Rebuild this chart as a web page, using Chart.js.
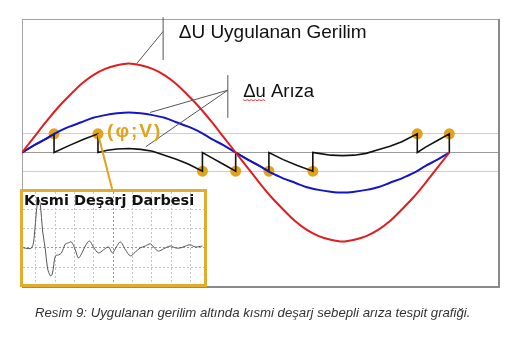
<!DOCTYPE html>
<html><head><meta charset="utf-8">
<script src="https://cdn.jsdelivr.net/npm/chart.js@4.4.1/dist/chart.umd.min.js"></script>
<style>
html,body{margin:0;padding:0;background:#fff;}
#wrap{position:relative;width:526px;height:341px;overflow:hidden;}
#main{position:absolute;left:0;top:0;}
#inset{position:absolute;left:20px;top:189px;width:181px;height:92px;border:3px solid #E2AC2C;background:#fff;}
#pulse{display:block;}
#caption{position:absolute;left:35px;top:305px;font:italic 13.2px "Liberation Sans",Arial,sans-serif;color:#333;white-space:nowrap;}
</style></head><body>
<div id="wrap">
<canvas id="main" width="526" height="341"></canvas>
<div id="inset"><canvas id="pulse" width="181" height="92"></canvas></div>
<div id="caption">Resim 9: Uygulanan gerilim altında kısmi deşarj sebepli arıza tespit grafiği.</div>
</div>
<script>
// ---- data ----
const V = 0.21;
const phaseDeg = [0,10,20,30,40,50,60,70,80,90,100,110,120,130,140,150,160,170,180,190,200,210,220,230,240,250,260,270,280,290,300,310,320,330,340,350,360];
const appliedU = [0,0.17,0.34,0.50,0.64,0.77,0.87,0.94,0.98,1.00,0.98,0.94,0.87,0.77,0.64,0.50,0.34,0.17,0,-0.17,-0.34,-0.50,-0.64,-0.77,-0.87,-0.94,-0.98,-1.00,-0.98,-0.94,-0.87,-0.77,-0.64,-0.50,-0.34,-0.17,0];
const faultU = [0,0.08,0.15,0.23,0.29,0.34,0.39,0.42,0.44,0.45,0.44,0.42,0.39,0.34,0.29,0.23,0.15,0.08,0,-0.08,-0.15,-0.23,-0.29,-0.34,-0.39,-0.42,-0.44,-0.45,-0.44,-0.42,-0.39,-0.34,-0.29,-0.23,-0.15,-0.08,0];
const arcPhase = [0,10,20,27,27,40,52,64,64,72,80,90,100,110,120,130,140,152,152,160,170,180,180,190,200,208,208,220,232,245,245,250,260,270,280,290,300,310,320,333,333,340,350,360,360];
const arcVolt  = [0,0.08,0.155,0.21,0,0.08,0.15,0.21,0,0.025,0.04,0.045,0.035,0.015,-0.03,-0.075,-0.13,-0.21,0,-0.06,-0.135,-0.21,0,-0.075,-0.15,-0.21,0,-0.08,-0.145,-0.21,0,-0.01,-0.03,-0.035,-0.03,-0.01,0.03,0.07,0.12,0.21,0,0.06,0.135,0.21,0];
const pdPhase = [27,64,152,180,208,245,333,360];
const pdVolt  = [V,V,-V,-V,-V,-V,V,V];
const gridLevels = [-V,0,V];
const pulseTime = [-0.65,-0.23,-0.08,0.03,0.13,0.23,0.34,0.49,0.6,0.75,0.85,1.01,1.17,1.32,1.53,1.68,1.84,2.04,2.2,2.36,2.56,2.77,2.98,3.24,3.5,3.76,3.96,4.17,4.38,4.64,4.9,5.15,5.41,5.67,5.93,6.14,6.35,6.61,6.97,7.23,7.49,7.75,8.0,8.26,8.63];
const pulseAmp  = [0,0,0.67,1.97,2.54,2.23,0.93,-0.1,-1.04,-1.45,-1.35,-0.41,-0.36,-0.26,0.21,0.26,0.31,-0.1,-0.52,-0.31,0.1,0.36,0.05,-0.26,-0.1,0.05,-0.26,0.05,0.31,-0.1,-0.41,-0.21,0,0.1,0.21,0,-0.16,-0.05,0.1,0,0,0.1,0.16,0.05,0.1];

const GOLD = '#E2A21A';
const zip = (xs, ys) => xs.map((x, i) => ({x, y: ys[i]}));

// annotation config (data coordinates)
const notes = {
  lines: [
    {pts: [[118.9,1.52],[118.9,1.04]], color:'#555', w:1},
    {pts: [[118.9,1.36],[96.7,1.0]], color:'#555', w:1},
    {pts: [[173.4,0.87],[173.4,0.39]], color:'#555', w:1},
    {pts: [[173.4,0.70],[107.9,0.45]], color:'#555', w:1},
    {pts: [[173.4,0.70],[104.3,0.065]], color:'#555', w:1},
    {pts: [[64,V],[75.9,-0.41]], color:GOLD, w:2}
  ],
  texts: [
    {t:'ΔU Uygulanan Gerilim', x:132, y:1.283, font:'19px "Liberation Sans", Arial, sans-serif', color:'#111', ls:0},
    {t:'Δu Arıza', x:186.3, y:0.627, font:'18.5px "Liberation Sans", Arial, sans-serif', color:'#111', squiggle:true, ls:0},
    {t:'(φ;V)', x:71.7, y:0.17, font:'bold 19px "Liberation Sans", Arial, sans-serif', color:GOLD, ls:2}
  ]
};

const annotPlugin = {
  id: 'annot',
  beforeDatasetsDraw(chart) {
    const {ctx, chartArea: a} = chart;
    ctx.save();
    ctx.strokeStyle = '#a3a3a3'; ctx.lineWidth = 1;
    ctx.strokeRect(a.left + 0.5, a.top + 0.5, a.right - a.left, a.bottom - a.top);
    ctx.strokeStyle = '#8a8a8a'; ctx.lineWidth = 2;
    ctx.beginPath();
    ctx.moveTo(a.right + 1, a.top); ctx.lineTo(a.right + 1, a.bottom + 1);
    ctx.lineTo(a.left, a.bottom + 1);
    ctx.stroke();
    ctx.restore();
  },
  afterDatasetsDraw(chart) {
    const {ctx, scales: {x, y}} = chart;
    ctx.save();
    notes.lines.forEach(l => {
      ctx.strokeStyle = l.color; ctx.lineWidth = l.w;
      ctx.beginPath();
      l.pts.forEach((p, i) => {
        const px = x.getPixelForValue(p[0]), py = y.getPixelForValue(p[1]);
        i ? ctx.lineTo(px, py) : ctx.moveTo(px, py);
      });
      ctx.stroke();
    });
    notes.texts.forEach(n => {
      ctx.font = n.font; ctx.fillStyle = n.color;
      ctx.textBaseline = 'alphabetic'; ctx.textAlign = 'left';
      ctx.letterSpacing = n.ls + 'px';
      const px = x.getPixelForValue(n.x), py = y.getPixelForValue(n.y);
      ctx.fillText(n.t, px, py);
      if (n.squiggle) {
        const w = ctx.measureText('Δu').width;
        ctx.strokeStyle = '#e04040'; ctx.lineWidth = 1;
        ctx.beginPath();
        for (let k = 0; k <= w; k += 2) {
          const yy = py + 3 + ((k / 2) % 2 ? 1 : 0);
          k ? ctx.lineTo(px + k, yy) : ctx.moveTo(px + k, yy);
        }
        ctx.stroke();
      }
    });
    ctx.letterSpacing = '0px';
    ctx.restore();
  }
};

new Chart(document.getElementById('main'), {
  type: 'line',
  data: {
    datasets: [
      {data: zip(phaseDeg, appliedU), borderColor: '#E01E1E', borderWidth: 2, pointRadius: 0, tension: 0.4, cubicInterpolationMode: 'monotone'},
      {data: zip(phaseDeg, faultU), borderColor: '#1414C8', borderWidth: 2, pointRadius: 0, tension: 0.4, cubicInterpolationMode: 'monotone'},
      {data: zip(arcPhase, arcVolt), borderColor: '#111', borderWidth: 1.6, pointRadius: 0, tension: 0},
      {data: zip(pdPhase, pdVolt), showLine: false, pointRadius: 5.5, pointBackgroundColor: GOLD, pointBorderColor: GOLD, pointBorderWidth: 0}
    ]
  },
  options: {
    responsive: false, animation: false,
    layout: {padding: {left: 22, top: 19, right: 28, bottom: 55}},
    plugins: {legend: {display: false}, tooltip: {enabled: false}},
    scales: {
      x: {type: 'linear', min: 0, max: 401, display: false},
      y: {
        type: 'linear', min: -1.5, max: 1.5,
        afterBuildTicks: s => { s.ticks = gridLevels.map(v => ({value: v})); },
        ticks: {display: false},
        border: {display: false},
        grid: {drawTicks: false, color: c => c.tick && c.tick.value === 0 ? '#9a9a9a' : '#cfcfcf', lineWidth: 1}
      }
    }
  },
  plugins: [annotPlugin]
});

const pulseTitle = {
  id: 'ptitle',
  afterDatasetsDraw(chart) {
    const ctx = chart.ctx;
    ctx.save();
    ctx.font = 'bold 14.5px "DejaVu Sans", Verdana, sans-serif';
    ctx.fillStyle = '#111'; ctx.textBaseline = 'alphabetic';
    ctx.fillText('Kısmi Deşarj Darbesi', 1, 13);
    ctx.restore();
  }
};

new Chart(document.getElementById('pulse'), {
  type: 'line',
  data: {datasets: [{data: zip(pulseTime, pulseAmp), borderColor: '#555', borderWidth: 1, pointRadius: 0, tension: 0.35}]},
  options: {
    responsive: false, animation: false,
    layout: {padding: 0},
    plugins: {legend: {display: false}, tooltip: {enabled: false}},
    scales: {
      x: {type: 'linear', min: -0.67, max: 8.71,
          ticks: {display: false, stepSize: 1, includeBounds: false},
          border: {display: false, dash: [2, 2]},
          grid: {drawTicks: false, color: c => c.tick && c.tick.value === 4 ? '#999' : '#c4c4c4'}},
      y: {type: 'linear', min: -1.87, max: 2.9,
          ticks: {display: false, stepSize: 1, includeBounds: false},
          border: {display: false, dash: [2, 2]},
          grid: {drawTicks: false, color: c => c.tick && c.tick.value === 0 ? '#999' : '#c4c4c4'}}
    }
  },
  plugins: [pulseTitle]
});
</script>
</body></html>
